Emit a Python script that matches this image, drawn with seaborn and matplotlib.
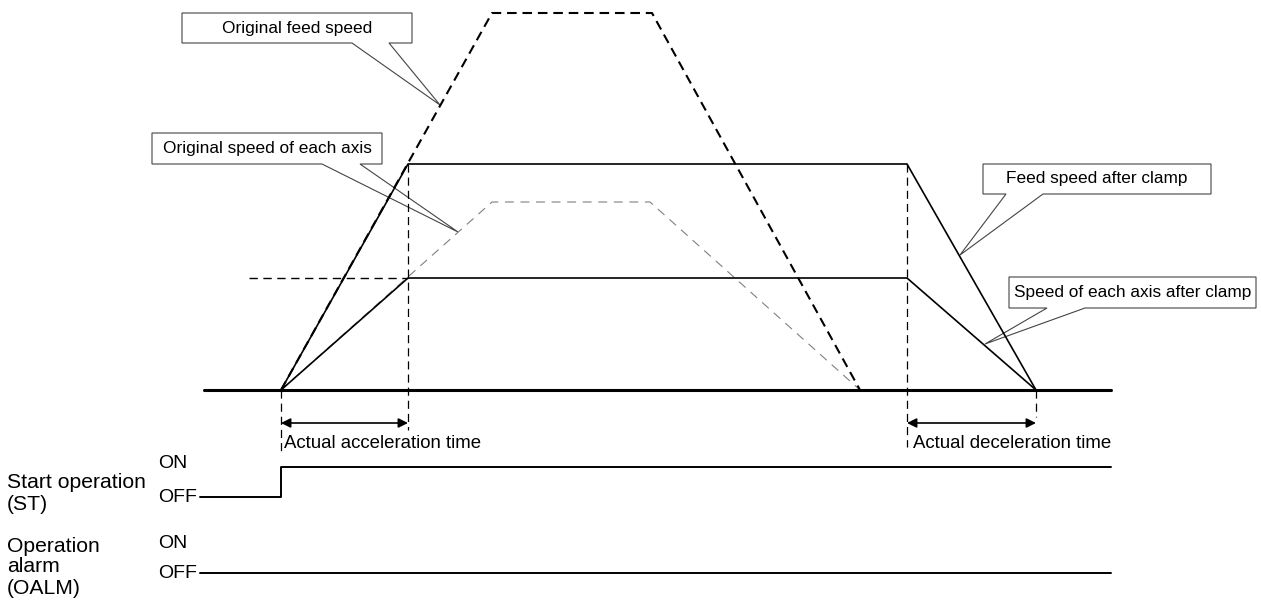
import numpy as np
import pandas as pd
import seaborn as sns
from matplotlib import pyplot as plt
from matplotlib.patches import Polygon

# time points (px along the time axis)
t_start = 281
t_acc_end = 408
t_dec_start = 907
t_stop = 1036
t_orig_top = [492, 652]
t_orig_axis_top = [492, 650]
t_orig_stop = 860

# speeds (height above the zero line)
feed_clamp = 226
axis_clamp = 112
orig_feed = 377
orig_axis = 188

# signal levels
st_off, st_on = -107, -77
oalm_off = -183

orig_feed_x = [t_start, t_orig_top[0], t_orig_top[1], t_orig_stop]
orig_feed_y = [0, orig_feed, orig_feed, 0]
orig_axis_x = [t_start, t_orig_axis_top[0], t_orig_axis_top[1], t_orig_stop]
orig_axis_y = [0, orig_axis, orig_axis, 0]
clamp_x = [t_start, t_acc_end, t_dec_start, t_stop]
feed_clamp_y = [0, feed_clamp, feed_clamp, 0]
axis_clamp_y = [0, axis_clamp, axis_clamp, 0]
st_x = [200, t_start, t_start, 1111]
st_y = [st_off, st_off, st_on, st_on]
oalm_x = [200, 1111]
oalm_y = [oalm_off, oalm_off]

callout_labels = ["Original feed speed", "Original speed of each axis",
                  "Feed speed after clamp", "Speed of each axis after clamp"]

sns.set_theme(style="white")
plt.rcParams['font.family'] = ['Liberation Sans', 'DejaVu Sans']
plt.rcParams['text.color'] = 'black'

fig = plt.figure(figsize=(12.61, 6.01), dpi=100)
ax = fig.add_axes([0, 0, 1, 1])
ax.set_xlim(0, 1261)
ax.set_ylim(390 - 601, 390)
ax.axis('off')

def Y(py):
    # pixel row -> data y
    return 390 - py

def line(x, y, **kw):
    sns.lineplot(x=x, y=y, sort=False, estimator=None, ax=ax, **kw)

# original speeds (dashed)
line(orig_axis_x, orig_axis_y, color='#808080', lw=0.8, linestyle=(0, (8, 6)))
line(orig_feed_x, orig_feed_y, color='black', lw=1.5, linestyle=(0, (4.6, 2.8)))

# speeds after clamp
line(clamp_x, feed_clamp_y, color='black', lw=1.2)
line(clamp_x, axis_clamp_y, color='black', lw=1.2)
line([249, t_acc_end], [axis_clamp, axis_clamp], color='black', lw=1.0, linestyle=(0, (6, 4)))

# zero line
line([204, 1111], [0, 0], color='black', lw=2.2)

# vertical guides
dash_v = (0, (6.5, 4))
line([t_start, t_start], [0, Y(452)], color='black', lw=0.9, linestyle=dash_v)
line([t_acc_end, t_acc_end], [feed_clamp, Y(430)], color='black', lw=0.9, linestyle=dash_v)
line([t_dec_start, t_dec_start], [feed_clamp, Y(447)], color='black', lw=0.9, linestyle=dash_v)
line([t_stop, t_stop], [0, Y(417)], color='black', lw=0.9, linestyle=dash_v)

# time arrows
for a, b in [(t_start, t_acc_end), (t_dec_start, t_stop)]:
    ax.annotate('', xy=(a, Y(423)), xytext=(b, Y(423)),
                arrowprops=dict(arrowstyle='<|-|>', color='black', lw=1.2,
                                mutation_scale=14, shrinkA=0, shrinkB=0))
ax.text(284, Y(443), "Actual acceleration time", fontsize=13.4, va='center', ha='left')
ax.text(913, Y(443), "Actual deceleration time", fontsize=13.4, va='center', ha='left')

# signals
line(st_x, st_y, color='black', lw=1.4)
line(oalm_x, oalm_y, color='black', lw=1.4)

sig_fs = 14
name_fs = 15.2
ax.text(158, Y(463), "ON", fontsize=sig_fs, va='center')
ax.text(158, Y(497), "OFF", fontsize=sig_fs, va='center')
ax.text(158, Y(543), "ON", fontsize=sig_fs, va='center')
ax.text(158, Y(573), "OFF", fontsize=sig_fs, va='center')
ax.text(7, Y(482), "Start operation", fontsize=name_fs, va='center')
ax.text(7, Y(504), "(ST)", fontsize=name_fs, va='center')
ax.text(7, Y(547), "Operation", fontsize=name_fs, va='center')
ax.text(7, Y(567), "alarm", fontsize=name_fs, va='center')
ax.text(7, Y(588), "(OALM)", fontsize=name_fs, va='center')

# callouts: box (x0, x1, y0, y1), wedge base (xa, xb), tip
callouts = [
    ((182, 412, 13, 43), (352, 389), (440, 105)),
    ((152, 382, 133, 164), (322, 360), (458, 232)),
    ((983, 1211, 164, 194), (1006, 1043), (960, 255)),
    ((1009, 1256, 277, 308), (1047, 1085), (985, 344)),
]
for label, (box, base, tip) in zip(callout_labels, callouts):
    x0, x1, y0, y1 = box
    pts = [(x0, Y(y0)), (x1, Y(y0)), (x1, Y(y1)), (base[1], Y(y1)),
           (tip[0], Y(tip[1])), (base[0], Y(y1)), (x0, Y(y1))]
    ax.add_patch(Polygon(pts, closed=True, facecolor='white', edgecolor='#444444',
                         lw=0.8, zorder=1))
    ax.text((x0 + x1) / 2, Y((y0 + y1) / 2), label, fontsize=12.4,
            ha='center', va='center', zorder=3)

fig.savefig('out.png', dpi=100)
